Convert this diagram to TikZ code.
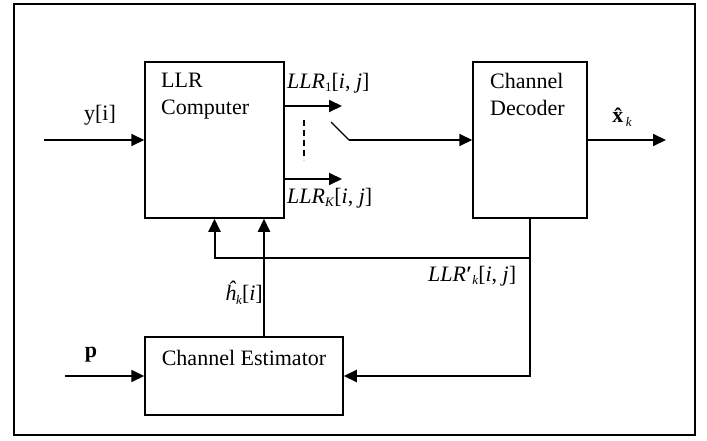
\documentclass[tikz,border=0pt]{standalone}
\usepackage{fontspec}
\setmainfont{Liberation Serif}
\usetikzlibrary{arrows.meta}
\newcommand\bigf{\fontsize{22}{26}\selectfont}
\newcommand\smallsub[1]{\raisebox{-0.35ex}{\fontsize{13}{15}\selectfont #1}}
\begin{document}
\begin{tikzpicture}[x=1pt,y=-1pt,
  blk/.style={draw,line width=1.5pt,inner sep=0pt},
  txt/.style={font=\bigf,inner sep=0pt},
  arr/.style={line width=2pt,-{Triangle[length=13pt,width=12pt]}},
  wire/.style={line width=2pt}]
\useasboundingbox (0,0) rectangle (707,441);
\draw[line width=2pt] (14,4) rectangle (695,435);
% blocks
\node[blk,minimum width=139pt,minimum height=156pt] (llr) at (214.5,140) {};
\node[blk,minimum width=114pt,minimum height=156pt] (dec) at (530,140) {};
\node[blk,minimum width=198pt,minimum height=78pt] (est) at (244,376) {};
% block texts
\node[txt,align=left,anchor=north west] (llrt) at (161,73) {LLR\\[1pt]Computer};
\node[txt,align=left,anchor=north west] (dect) at (490,73) {Channel\\[1pt]Decoder};
\node[txt] (estt) at (244,358) {Channel Estimator};
% labels
\node[txt] (ylab) at (100,115) {y[i]};
\node[txt,anchor=west] (l1) at (287,83) {\textit{LLR}\smallsub{1}[\textit{i}, \textit{j}]};
\node[txt,anchor=west] (lk) at (287,198) {\textit{LLR}\smallsub{\textit{K}}[\textit{i}, \textit{j}]};
\node[txt] (xlab) at (622,117) {\textbf{\^{x}}\kern-1pt\smallsub{\textit{k}}};
\node[txt,anchor=west] (lpk) at (428,276) {\textit{LLR}\textbf{′}\smallsub{\textit{k}}[\textit{i}, \textit{j}]};
\node[txt,anchor=east] (hlab) at (263,293) {\textit{ĥ}\smallsub{\textit{k}}[\textit{i}]};
\node[txt] (plab) at (91,355) {\textbf{p}};
% coordinates
\coordinate (yin) at (44,140);
\coordinate (o1) at (342,106);
\coordinate (ok) at (342,179);
\coordinate (sw1) at (331,122);
\coordinate (sw2) at (349,140);
\coordinate (d1) at (304,120);
\coordinate (d2) at (304,160);
\coordinate (xout) at (666,140);
\coordinate (pin) at (65,376);
\coordinate (fb) at (530,258);
\coordinate (fl) at (214.5,258);
\coordinate (hx) at (264,300);
% connectors
\draw[arr] (yin) -- (llr.west);
\draw[arr] (llr.east |- o1) -- (o1);
\draw[arr] (llr.east |- ok) -- (ok);
\draw[line width=1.3pt,dash pattern=on 6pt off 4pt] (d1) -- (d2);
\draw[line width=1.3pt] (sw1) -- (sw2);
\draw[arr] (sw2) -- (dec.west);
\draw[arr] (dec.east) -- (xout);
\draw[arr] (dec.south) -- (dec.south |- est.east) -- (est.east);
\draw[arr] (fb) -- (fl) -- (llr.south);
\draw[arr] (est.north -| hx) -- (llr.south -| hx);
\draw[arr] (pin) -- (est.west);
\end{tikzpicture}
\end{document}
